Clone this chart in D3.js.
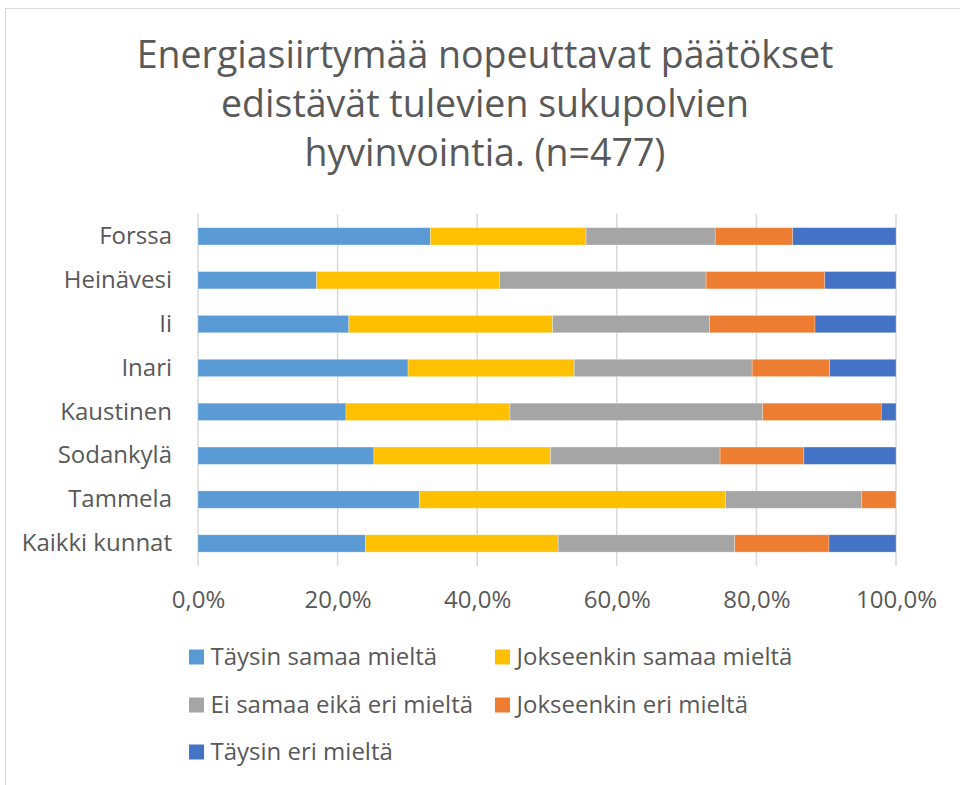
<!DOCTYPE html>
<html><head><meta charset="utf-8">
<script src="https://cdn.jsdelivr.net/npm/d3@7"></script>
<style>body{margin:0;background:#fff}svg{display:block}text{font-family:"Open Sans",sans-serif;fill:#595959}</style>
</head><body><svg id="c" width="960" height="785"></svg>
<script>
const titleLines = ["Energiasiirtymää nopeuttavat päätökset","edistävät tulevien sukupolvien","hyvinvointia. (n=477)"];
const categories = ["Forssa","Heinävesi","Ii","Inari","Kaustinen","Sodankylä","Tammela","Kaikki kunnat"];
const seriesNames = ["Täysin samaa mieltä","Jokseenkin samaa mieltä","Ei samaa eikä eri mieltä","Jokseenkin eri mieltä","Täysin eri mieltä"];
const colors = ["#5B9BD5","#FFC000","#A5A5A5","#ED7D31","#4472C4"];
const taysinSamaa     = [33.3,17.0,21.6,30.1,21.2,25.2,31.7,24.0];
const jokseenkinSamaa = [22.3,26.2,29.2,23.8,23.5,25.3,43.9,27.6];
const eiSamaaEikaEri  = [18.5,29.6,22.5,25.5,36.2,24.3,19.5,25.3];
const jokseenkinEri   = [11.1,17.0,15.1,11.1,17.0,12.0,4.9,13.5];
const taysinEri       = [14.8,10.2,11.6,9.5,2.1,13.2,0.0,9.6];
const tickValues = [0,20,40,60,80,100];

const series = [taysinSamaa,jokseenkinSamaa,eiSamaaEikaEri,jokseenkinEri,taysinEri];
const rows = categories.map((c,i)=>{const o={cat:c}; seriesNames.forEach((s,j)=>o[s]=series[j][i]); return o;});
const stacked = d3.stack().keys(seriesNames)(rows);

const svg = d3.select("#c");
svg.append("rect").attr("x",5.5).attr("y",8.5).attr("width",1000).attr("height",1000)
  .attr("fill","none").attr("stroke","#d9d9d9");

svg.append("g").selectAll("text").data(titleLines).join("text")
  .attr("x",485).attr("y",(d,i)=>68+i*49).attr("text-anchor","middle")
  .attr("font-size",37.5).text(d=>d);

const x = d3.scaleLinear().domain([0,100]).range([198,896]);
const y = d3.scaleBand().domain(categories).range([214.4,565.4]).paddingInner(0.605).paddingOuter(0.3025);

svg.append("g").selectAll("line").data(tickValues).join("line")
  .attr("x1",d=>x(d)).attr("x2",d=>x(d)).attr("y1",214).attr("y2",566)
  .attr("stroke","#d9d9d9").attr("stroke-width",1.5);

svg.append("g").selectAll("g").data(stacked).join("g")
  .attr("fill",(d,i)=>colors[i])
  .selectAll("rect").data(d=>d).join("rect")
  .attr("x",d=>x(d[0])).attr("width",d=>Math.max(0,x(d[1])-x(d[0])))
  .attr("y",d=>y(d.data.cat)).attr("height",y.bandwidth())
  .attr("stroke","#fff").attr("stroke-opacity",0.35).attr("stroke-width",0.75);

const yAxis = svg.append("g").attr("transform","translate(198,0)")
  .call(d3.axisLeft(y).tickSize(0).tickPadding(26));
yAxis.select(".domain").remove();
yAxis.selectAll("text").attr("font-size",24).style("font-family","Open Sans").attr("fill","#595959");

const xAxis = svg.append("g").attr("transform","translate(0,566)")
  .call(d3.axisBottom(x).tickValues(tickValues).tickSize(0).tickPadding(25)
    .tickFormat(d=>d.toFixed(1).replace(".",",")+"%"));
xAxis.select(".domain").remove();
xAxis.selectAll("text").attr("font-size",24).style("font-family","Open Sans").attr("fill","#595959");

const legPos = [[189,657],[495,657],[189,705],[495,705],[189,752]];
const leg = svg.append("g").selectAll("g").data(seriesNames).join("g")
  .attr("transform",(d,i)=>`translate(${legPos[i][0]},${legPos[i][1]})`);
leg.append("rect").attr("x",0).attr("y",-7.5).attr("width",15).attr("height",15).attr("fill",(d,i)=>colors[i]);
leg.append("text").attr("x",21.5).attr("y",8).attr("font-size",24).text(d=>d);
</script></body></html>
